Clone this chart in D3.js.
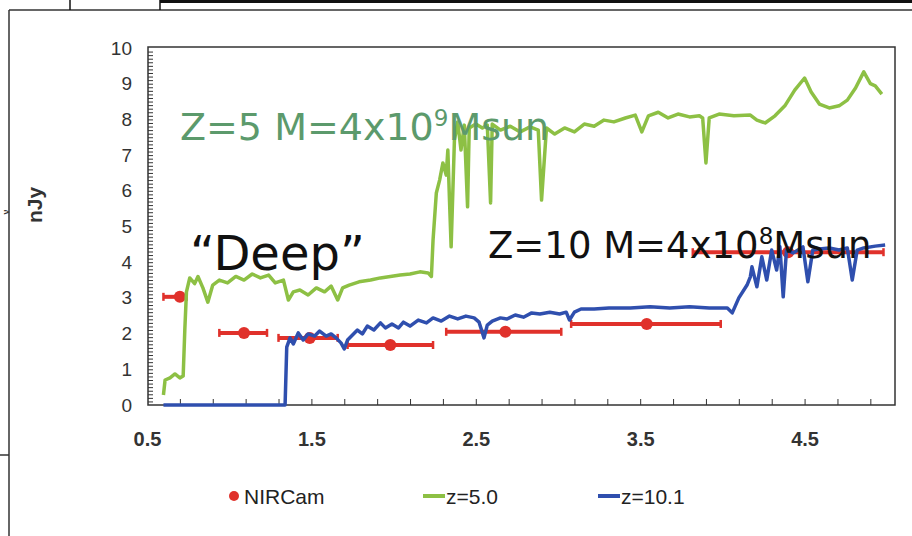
<!DOCTYPE html>
<html>
<head>
<meta charset="utf-8">
<script src="https://cdn.jsdelivr.net/npm/d3@7"></script>
<style>
  body { margin: 0; background: #fff; }
  svg { display: block; }
</style>
</head>
<body>
<svg id="chart" width="912" height="536"></svg>
<script>
// wavelength (micron) and flux (nJy)
const greenWave = [0.60,0.61,0.64,0.67,0.70,0.72,0.73,0.74,0.76,0.79,0.81,0.84,0.87,0.90,0.94,0.99,1.04,1.09,1.14,1.19,1.24,1.28,1.33,1.36,1.39,1.43,1.48,1.53,1.58,1.62,1.66,1.69,1.73,1.79,1.86,1.92,1.98,2.04,2.10,2.16,2.21,2.23,2.24,2.26,2.28,2.30,2.32,2.33,2.34,2.35,2.37,2.39,2.41,2.43,2.45,2.46,2.50,2.54,2.57,2.59,2.60,2.65,2.71,2.77,2.83,2.88,2.90,2.93,2.98,3.04,3.10,3.16,3.22,3.28,3.34,3.41,3.47,3.51,3.55,3.61,3.67,3.73,3.80,3.86,3.88,3.90,3.92,3.98,4.07,4.17,4.21,4.26,4.32,4.38,4.44,4.50,4.54,4.59,4.65,4.71,4.76,4.81,4.86,4.90,4.93,4.97];
const greenFlux = [0.28,0.70,0.76,0.87,0.76,0.81,2.10,3.17,3.56,3.40,3.60,3.28,2.88,3.36,3.50,3.42,3.60,3.50,3.67,3.56,3.64,3.42,3.50,2.94,3.17,3.22,3.08,3.28,3.17,3.33,2.94,3.28,3.36,3.45,3.50,3.56,3.60,3.64,3.67,3.73,3.70,3.60,4.62,5.94,6.30,6.78,6.44,7.14,5.74,4.43,7.42,7.93,7.14,7.84,5.55,7.76,7.87,7.76,7.84,5.66,7.87,7.70,7.81,7.65,7.79,7.70,5.74,7.76,7.59,7.76,7.65,7.87,7.81,7.98,7.93,8.04,8.12,7.65,8.10,8.20,8.04,8.15,8.07,8.10,8.04,6.78,8.04,8.15,8.10,8.12,7.98,7.90,8.10,8.38,8.82,9.16,8.77,8.43,8.32,8.38,8.54,8.88,9.33,9.00,8.94,8.71];

const blueWave = [0.60,1.34,1.35,1.37,1.39,1.42,1.45,1.48,1.52,1.55,1.59,1.62,1.65,1.68,1.70,1.72,1.75,1.78,1.81,1.84,1.88,1.92,1.95,1.99,2.03,2.06,2.10,2.15,2.20,2.24,2.29,2.34,2.39,2.44,2.49,2.52,2.55,2.57,2.60,2.65,2.69,2.74,2.79,2.84,2.89,2.95,3.01,3.05,3.07,3.10,3.14,3.22,3.31,3.44,3.56,3.68,3.80,3.92,4.03,4.06,4.10,4.15,4.17,4.18,4.21,4.24,4.27,4.30,4.33,4.35,4.37,4.39,4.43,4.46,4.49,4.52,4.55,4.59,4.65,4.71,4.76,4.79,4.82,4.86,4.93,4.99];
const blueFlux = [0,0,1.62,1.88,1.71,2.02,1.82,1.99,1.93,2.07,1.93,1.99,1.88,1.74,1.57,1.82,1.96,2.10,1.99,2.21,2.10,2.30,2.16,2.27,2.16,2.32,2.21,2.38,2.30,2.44,2.35,2.49,2.41,2.49,2.44,2.32,1.88,2.24,2.35,2.44,2.41,2.52,2.46,2.58,2.55,2.60,2.55,2.60,2.38,2.60,2.69,2.69,2.72,2.72,2.75,2.72,2.75,2.72,2.72,2.58,3.00,3.36,3.59,3.87,3.31,4.15,3.50,4.34,3.78,4.43,3.03,4.34,4.26,4.34,4.43,3.45,4.34,4.37,4.40,4.34,4.40,3.50,4.34,4.40,4.45,4.48];

// NIRCam filters: centre, band edges, flux
const nircamWave = [0.70, 1.09, 1.49, 1.98, 2.68, 3.54, 4.40];
const nircamLo   = [0.60, 0.94, 1.30, 1.72, 2.32, 3.08, 3.82];
const nircamHi   = [0.74, 1.23, 1.66, 2.24, 3.02, 3.99, 4.98];
const nircamFlux = [3.03, 2.02, 1.88, 1.68, 2.05, 2.27, 4.28];

const xTickLabels = [0.5, 1.5, 2.5, 3.5, 4.5];
const yTickLabels = [0, 1, 2, 3, 4, 5, 6, 7, 8, 9, 10];

const legendItems = [
  { label: "NIRCam", color: "#e0312b", type: "dot" },
  { label: "z=5.0", color: "#8dc044", type: "line" },
  { label: "z=10.1", color: "#2f4fae", type: "line" }
];

const svg = d3.select("#chart");
const narrow = "'Liberation Sans Narrow', 'Arial Narrow', 'Liberation Sans', Arial, sans-serif";

// outer page frame bits
svg.append("line").attr("x1", 9).attr("x2", 9).attr("y1", 10).attr("y2", 536)
  .attr("stroke", "#333").attr("stroke-width", 1.5);
svg.append("line").attr("x1", 9).attr("x2", 912).attr("y1", 10).attr("y2", 10)
  .attr("stroke", "#333").attr("stroke-width", 1.5);
svg.append("line").attr("x1", 160).attr("x2", 912).attr("y1", 1.5).attr("y2", 1.5)
  .attr("stroke", "#111").attr("stroke-width", 3);
[70, 160].forEach(px => {
  svg.append("line").attr("x1", px).attr("x2", px).attr("y1", 0).attr("y2", 10)
    .attr("stroke", "#111").attr("stroke-width", 1.5);
});
svg.append("line").attr("x1", 0).attr("x2", 9).attr("y1", 455).attr("y2", 455)
  .attr("stroke", "#333").attr("stroke-width", 1.5);

// plot area
const plotLeft = 148, plotRight = 895, plotTop = 47, plotBottom = 405;
const x = d3.scaleLinear().domain([0.5, 5.05]).range([plotLeft - 1, plotRight]);
const y = d3.scaleLinear().domain([0, 10]).range([plotBottom, plotTop + 1]);

svg.append("rect")
  .attr("x", plotLeft).attr("y", plotTop)
  .attr("width", plotRight - plotLeft).attr("height", plotBottom - plotTop)
  .attr("fill", "#fff").attr("stroke", "#333").attr("stroke-width", 1.5);

// minor tick marks (inside)
const yMinor = d3.range(1, 100).map(i => i / 10);
svg.append("g")
  .attr("transform", `translate(${plotLeft},0)`)
  .call(d3.axisLeft(y).tickValues(yMinor).tickSize(-5).tickFormat(""))
  .call(g => g.select(".domain").remove())
  .selectAll("line").attr("stroke", "#333");

const xMinor = d3.range(0, 22).map(i => 0.7 + i * 0.2);
svg.append("g")
  .attr("transform", `translate(0,${plotBottom})`)
  .call(d3.axisBottom(x).tickValues(xMinor).tickSize(-6).tickFormat(""))
  .call(g => g.select(".domain").remove())
  .selectAll("line").attr("stroke", "#333");

// tick labels
svg.append("g")
  .attr("transform", `translate(${plotLeft - 16},0)`)
  .call(d3.axisLeft(y).tickValues(yTickLabels).tickSize(0).tickFormat(d3.format("d")))
  .call(g => g.select(".domain").remove())
  .selectAll("text")
  .attr("x", 0)
  .style("font-family", narrow)
  .style("font-size", "19px")
  .attr("fill", "#333");

svg.append("g")
  .attr("transform", `translate(0,${plotBottom + 24})`)
  .call(d3.axisBottom(x).tickValues(xTickLabels).tickSize(0).tickFormat(d3.format(".1f")))
  .call(g => g.select(".domain").remove())
  .selectAll("text")
  .style("font-family", narrow)
  .style("font-size", "20px")
  .style("font-weight", "bold")
  .attr("fill", "#333");

// y axis title (and the small symbol left of the frame)
svg.append("text")
  .attr("transform", "translate(42,205) rotate(-90)")
  .style("text-anchor", "middle")
  .style("font-family", "'Liberation Sans', Arial, sans-serif")
  .style("font-size", "21px")
  .style("font-weight", "bold")
  .attr("fill", "#333")
  .text("nJy");
svg.append("text")
  .attr("transform", "translate(5.5,212) rotate(-90)")
  .style("text-anchor", "middle")
  .attr("dominant-baseline", "central")
  .style("font-family", "'Liberation Sans', Arial, sans-serif")
  .style("font-size", "9px")
  .style("font-weight", "bold")
  .attr("fill", "#333")
  .text("ν");

// NIRCam bands
const nircam = nircamWave.map((w, i) => ({ w, lo: nircamLo[i], hi: nircamHi[i], f: nircamFlux[i] }));
const red = legendItems[0].color;

svg.selectAll(".band")
  .data(nircam)
  .enter()
  .append("line")
  .attr("class", "band")
  .attr("x1", d => x(d.lo)).attr("x2", d => x(d.hi))
  .attr("y1", d => y(d.f)).attr("y2", d => y(d.f))
  .attr("stroke", red).attr("stroke-width", 4);

svg.selectAll(".cap")
  .data(nircam.flatMap(d => [{ v: d.lo, f: d.f }, { v: d.hi, f: d.f }]))
  .enter()
  .append("line")
  .attr("class", "cap")
  .attr("x1", d => x(d.v)).attr("x2", d => x(d.v))
  .attr("y1", d => y(d.f) - 4).attr("y2", d => y(d.f) + 4)
  .attr("stroke", red).attr("stroke-width", 2.5);

svg.selectAll(".nircam")
  .data(nircam)
  .enter()
  .append("circle")
  .attr("class", "nircam")
  .attr("cx", d => x(d.w)).attr("cy", d => y(d.f))
  .attr("r", 6)
  .attr("fill", red);

// spectra
const line = d3.line().x(d => x(d[0])).y(d => y(d[1]));

svg.append("path")
  .datum(greenWave.map((w, i) => [w, greenFlux[i]]))
  .attr("d", line)
  .attr("fill", "none")
  .attr("stroke", legendItems[1].color)
  .attr("stroke-width", 3.5)
  .attr("stroke-linejoin", "round");

svg.append("path")
  .datum(blueWave.map((w, i) => [w, blueFlux[i]]))
  .attr("d", line)
  .attr("fill", "none")
  .attr("stroke", legendItems[2].color)
  .attr("stroke-width", 3.5)
  .attr("stroke-linejoin", "round");

// annotations
const note = "'DejaVu Sans', Verdana, sans-serif";

const t1 = svg.append("text")
  .attr("x", 180).attr("y", 140)
  .style("font-family", note).style("font-size", "38px")
  .attr("fill", "#5c9a6c");
t1.append("tspan").text("Z=5 M=4x10");
t1.append("tspan").attr("dy", -14).style("font-size", "23px").text("9");
t1.append("tspan").attr("dy", 14).text("Msun");

svg.append("text")
  .attr("x", 190).attr("y", 270)
  .style("font-family", note).style("font-size", "48px")
  .attr("fill", "#111")
  .text("\u201CDeep\u201D");

const t2 = svg.append("text")
  .attr("x", 488).attr("y", 258)
  .style("font-family", note).style("font-size", "37px")
  .attr("fill", "#111");
t2.append("tspan").text("Z=10 M=4x10");
t2.append("tspan").attr("dy", -14).style("font-size", "23px").text("8");
t2.append("tspan").attr("dy", 14).text("Msun");

// legend
const legendX = [234, 423, 598];
const legend = svg.append("g").attr("class", "legend");

legend.selectAll(".legend-item")
  .data(legendItems)
  .enter()
  .append("g")
  .attr("class", "legend-item")
  .attr("transform", (d, i) => `translate(${legendX[i]}, 496)`)
  .each(function (d) {
    const g = d3.select(this);
    let tx;
    if (d.type === "dot") {
      g.append("circle").attr("cx", 0).attr("cy", 0).attr("r", 5).attr("fill", d.color);
      tx = 10;
    } else {
      g.append("line").attr("x1", 0).attr("x2", 22).attr("y1", 0).attr("y2", 0)
        .attr("stroke", d.color).attr("stroke-width", 4);
      tx = 23;
    }
    g.append("text")
      .attr("x", tx).attr("y", 8)
      .style("font-family", narrow)
      .style("font-size", "21px")
      .attr("fill", "#222")
      .text(d.label);
  });
</script>
</body>
</html>
